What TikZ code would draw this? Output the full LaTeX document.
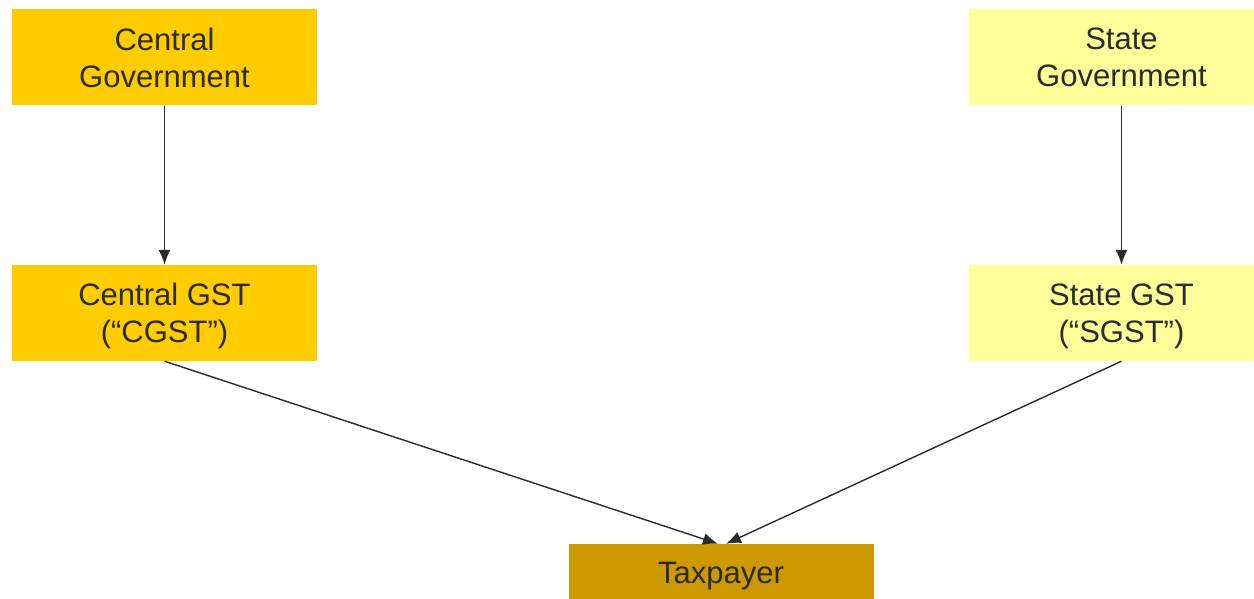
\documentclass[tikz,border=0pt]{standalone}
\usepackage{fontspec}
\setmainfont{Liberation Sans}
\usetikzlibrary{arrows.meta}
\definecolor{centralfill}{HTML}{FFCC00}
\definecolor{statefill}{HTML}{FFFF99}
\definecolor{taxfill}{HTML}{CC9900}
\definecolor{inkgray}{HTML}{2B2B2B}
\tikzset{govbox/.style={minimum width=305pt, minimum height=96pt, inner sep=0pt, align=center, text=inkgray,
  font=\fontsize{31}{37}\selectfont},
  gsttext/.style={align=center, text=inkgray, inner sep=0pt, yshift=-3pt, font=\fontsize{31}{37}\selectfont},
  flow/.style={-{Latex[length=15pt,width=12pt]}, draw=inkgray, line width=1.4pt}}
\begin{document}
\begin{tikzpicture}[x=1pt, y=-1pt]
\clip (0,0) rectangle (1254,599);
\fill[white] (0,0) rectangle (1254,599);
\node[govbox, fill=centralfill] (cgov) at (164.5,57.5) {Central\\Government};
\node[govbox, fill=statefill] (sgov) at (1121.5,57.5) {State\\Government};
\node[govbox, fill=centralfill, label={[gsttext]center:Central GST\\(“CGST”)}] (cgst) at (164.5,313) {};
\node[govbox, fill=statefill, label={[gsttext]center:State GST\\(“SGST”)}] (sgst) at (1121.5,313) {};
\node[govbox, fill=taxfill, minimum height=64pt] (tax) at (721,576) {Taxpayer};
\coordinate (taxl) at ([xshift=-3pt]tax.north);
\coordinate (taxr) at ([xshift=5pt]tax.north);
\draw[flow] (cgov.south)--(cgst.north);
\draw[flow] (sgov.south)--(sgst.north);
\draw[flow] (cgst.south)--(taxl);
\draw[flow] (sgst.south)--(taxr);
\end{tikzpicture}
\end{document}
